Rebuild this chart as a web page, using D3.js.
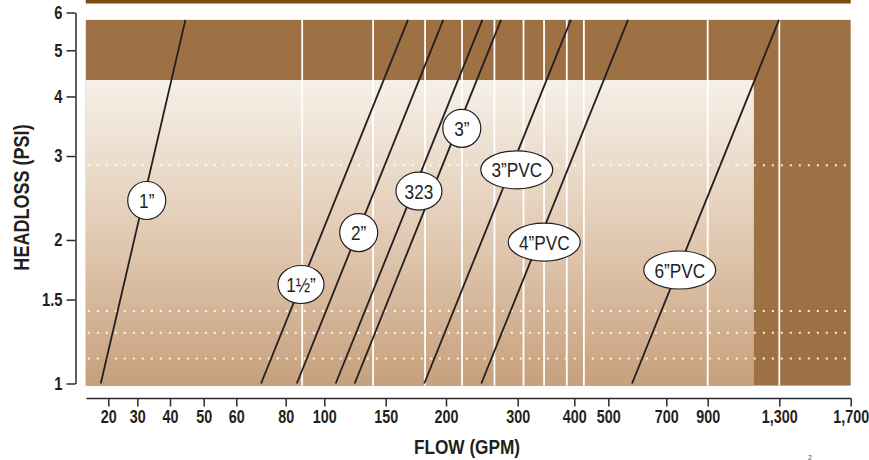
<!DOCTYPE html>
<html>
<head>
<meta charset="utf-8">
<script src="https://cdn.jsdelivr.net/npm/d3@7"></script>
<style>
  html, body { margin: 0; padding: 0; background: #fff; }
  svg { display: block; }
  .narrow { font-family: "Liberation Sans", Arial, sans-serif; }
</style>
</head>
<body>
<svg id="chart" width="869" height="460"></svg>
<script>
// ---------------- DATA ----------------
const xTickValues = [20, 30, 40, 50, 60, 80, 100, 150, 200, 300, 400, 500, 700, 900, 1300, 1700];
const xTickLabels = ["20", "30", "40", "50", "60", "80", "100", "150", "200", "300", "400", "500", "700", "900", "1,300", "1,700"];
const yTickValues = [1, 1.5, 2, 3, 4, 5, 6];
const yTickLabels = ["1", "1.5", "2", "3", "4", "5", "6"];

const pipeNames  = ["1\u201D", "1\u00BD\u201D", "2\u201D", "323", "3\u201D", "3\u201DPVC", "4\u201DPVC", "6\u201DPVC"];
const flowAtLow  = [18.0, 69.3, 85.3, 107.8, 122.2, 180.3, 244.2, 573.8];   // flow at headloss = lineHeadLow
const flowAtHigh = [44.3, 166.8, 197.4, 245.6, 273.0, 393.0, 560.6, 1298];  // flow at headloss = lineHeadHigh
const lineHeadLow = 1.0;
const lineHeadHigh = 5.79;

const labelFlow = [32.6, 87.4, 125.5, 175.8, 218.7, 298.4, 343.3, 759.4];
const labelHead = [2.42, 1.613, 2.073, 2.533, 3.43, 2.807, 1.98, 1.73];

const gridFlows  = [88, 138, 181, 219, 263, 309, 343, 385, 426, 900, 1300];  // white vertical rules
const dottedHeads = [2.868, 1.419, 1.278, 1.129];                          // dotted horizontal rules

const bandHeads = [4.33, 5.79];        // dark band (headloss range)
const plotBottomHead = 0.99;
const plotFlowMin = 14.6, plotFlowMax = 1700, lightZoneMaxFlow = 1141;

// ---------------- LAYOUT ----------------
const xTickPos = [108.3, 137.3, 170, 203.7, 236.3, 285.7, 324.3, 385.7, 446, 517.7, 574.3, 608.3, 666.3, 707.7, 779.3, 850.7];
const yRange = [383.5, 12.5];
const xAxisY = 398.5, yAxisX = 75.5;
const squeeze = "scale(0.82,1)";   // emulate a condensed face
const ink = "#231f20";

const svg = d3.select("#chart");

const x = d3.scaleLog().domain(xTickValues).range(xTickPos);
const y = d3.scaleLog().domain([1, 6]).range(yRange);

// gradient
const defs = svg.append("defs");
const grad = defs.append("linearGradient").attr("id", "lightGrad")
  .attr("x1", 0).attr("y1", 0).attr("x2", 0).attr("y2", 1);
grad.append("stop").attr("offset", "0%").attr("stop-color", "#f6f0e8");
grad.append("stop").attr("offset", "50%").attr("stop-color", "#e2cbb4");
grad.append("stop").attr("offset", "100%").attr("stop-color", "#c7a07c");

const brown = "#9d7143";

// top dark rule
svg.append("rect").attr("x", x(plotFlowMin)).attr("y", 0)
  .attr("width", x(plotFlowMax) - x(plotFlowMin)).attr("height", 3.5)
  .attr("fill", "#7a4a0e");

// whole plot brown
svg.append("rect").attr("x", x(plotFlowMin)).attr("y", y(bandHeads[1]))
  .attr("width", x(plotFlowMax) - x(plotFlowMin)).attr("height", y(plotBottomHead) - y(bandHeads[1]))
  .attr("fill", brown);

// light zone
svg.append("rect").attr("x", x(plotFlowMin)).attr("y", y(bandHeads[0]))
  .attr("width", x(lightZoneMaxFlow) - x(plotFlowMin)).attr("height", y(plotBottomHead) - y(bandHeads[0]))
  .attr("fill", "url(#lightGrad)");

// white vertical rules
svg.append("g").selectAll("line").data(gridFlows).join("line")
  .attr("x1", d => x(d)).attr("x2", d => x(d))
  .attr("y1", y(bandHeads[1])).attr("y2", y(plotBottomHead))
  .attr("stroke", "#fff").attr("stroke-width", 1.8);

// dotted horizontal rules
svg.append("g").selectAll("line").data(dottedHeads).join("line")
  .attr("x1", x(plotFlowMin) + 2).attr("x2", x(plotFlowMax))
  .attr("y1", d => y(d)).attr("y2", d => y(d))
  .attr("stroke", "#fff").attr("stroke-width", 2).attr("stroke-dasharray", "2,7")
  .attr("opacity", 0.9);

// pipe lines
const pipes = pipeNames.map((n, i) => ({ name: n, q0: flowAtLow[i], q1: flowAtHigh[i], lq: labelFlow[i], lh: labelHead[i] }));
svg.append("g").selectAll("line").data(pipes).join("line")
  .attr("x1", d => x(d.q0)).attr("y1", y(lineHeadLow))
  .attr("x2", d => x(d.q1)).attr("y2", y(lineHeadHigh))
  .attr("stroke", ink).attr("stroke-width", 1.8);

// labels
const lab = svg.append("g").selectAll("g").data(pipes).join("g")
  .attr("transform", d => `translate(${x(d.lq)},${y(d.lh)})`);
lab.append("ellipse")
  .attr("rx", d => d.name.length >= 5 ? 36 : (d.name.length === 3 ? 23 : 19))
  .attr("ry", 19)
  .attr("fill", "#fff").attr("stroke", ink).attr("stroke-width", 1.2);
lab.append("text").attr("class", "narrow")
  .attr("transform", squeeze)
  .attr("text-anchor", "middle").attr("dy", "0.36em")
  .attr("font-size", 21).attr("fill", ink)
  .text(d => d.name);

// X axis
const xAxis = d3.axisBottom(x).tickValues(xTickValues)
  .tickFormat((d, i) => xTickLabels[i]).tickSize(8).tickSizeOuter(0).tickPadding(4);
const gx = svg.append("g").attr("transform", `translate(0,${xAxisY})`).call(xAxis);
gx.select(".domain").remove();
gx.append("line").attr("x1", x(plotFlowMin) + 0.7).attr("x2", x(plotFlowMax) + 0.5)
  .attr("stroke", "#2a2a2a").attr("stroke-width", 1.5);
gx.selectAll(".tick line").attr("stroke", "#2a2a2a").attr("stroke-width", 1.5);
gx.selectAll(".tick text").attr("class", "narrow").attr("font-size", 17.5)
  .attr("transform", squeeze)
  .attr("font-weight", "bold").attr("fill", ink);

// Y axis
const yAxis = d3.axisLeft(y).tickValues(yTickValues)
  .tickFormat((d, i) => yTickLabels[i]).tickSize(9).tickSizeOuter(0).tickPadding(4);
const gy = svg.append("g").attr("transform", `translate(${yAxisX},0)`).call(yAxis);
gy.select(".domain").attr("stroke", "#2a2a2a").attr("stroke-width", 1.5);
gy.selectAll(".tick line").attr("stroke", "#2a2a2a").attr("stroke-width", 1.5);
gy.selectAll(".tick text").attr("class", "narrow").attr("font-size", 18)
  .attr("transform", "translate(-13,0) " + squeeze).attr("x", 0).attr("text-anchor", "end")
  .attr("font-weight", "bold").attr("fill", ink);

// Titles
svg.append("text").attr("class", "narrow")
  .attr("transform", "translate(29,197.5) rotate(-90) " + squeeze)
  .attr("text-anchor", "middle").attr("font-size", 22).attr("font-weight", "bold")
  .attr("fill", ink).text("HEADLOSS (PSI)");
svg.append("text").attr("class", "narrow")
  .attr("transform", "translate(467,454) " + squeeze)
  .attr("text-anchor", "middle").attr("font-size", 21).attr("font-weight", "bold")
  .attr("fill", ink).text("FLOW (GPM)");

// footnote superscript fragment at the bottom edge
svg.append("text").attr("class", "narrow").attr("x", 808).attr("y", 459.5)
  .attr("font-size", 7).attr("fill", "#555").text("2");
</script>
</body>
</html>
